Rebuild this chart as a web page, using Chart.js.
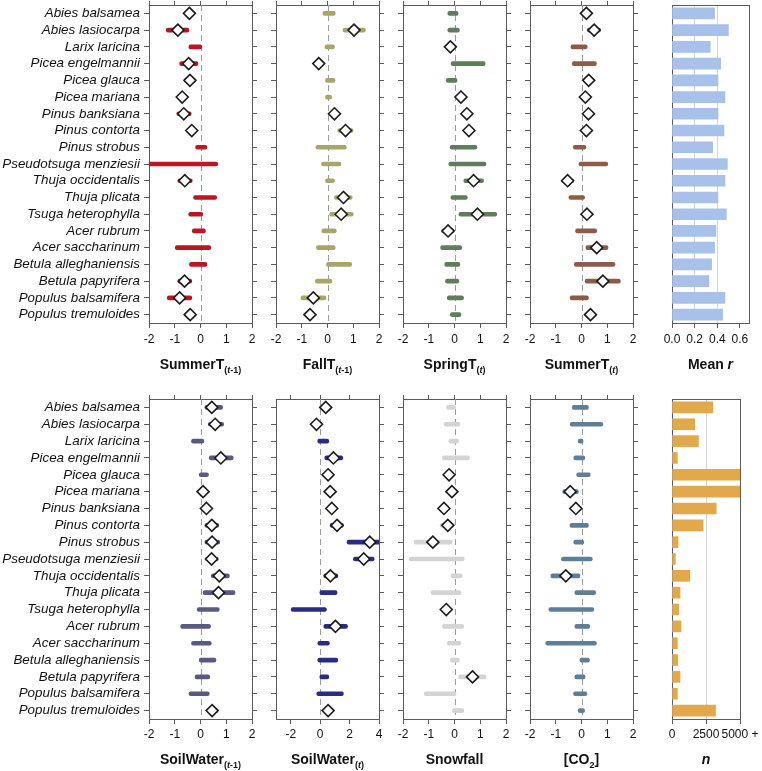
<!DOCTYPE html>
<html>
<head>
<meta charset="utf-8">
<script src="https://cdn.jsdelivr.net/npm/chart.js@4/dist/chart.umd.min.js"></script>
<style>
  html, body { margin: 0; padding: 0; background: #fff; }
  #wrap { position: relative; width: 762px; height: 771px; overflow: hidden; }
  #wrap canvas { position: absolute; }
</style>
</head>
<body>
<div id="wrap"></div>
<script>
const species = ['Abies balsamea', 'Abies lasiocarpa', 'Larix laricina', 'Picea engelmannii', 'Picea glauca',
  'Picea mariana', 'Pinus banksiana', 'Pinus contorta', 'Pinus strobus', 'Pseudotsuga menziesii',
  'Thuja occidentalis', 'Thuja plicata', 'Tsuga heterophylla', 'Acer rubrum', 'Acer saccharinum',
  'Betula alleghaniensis', 'Betula papyrifera', 'Populus balsamifera', 'Populus tremuloides'];

// interval ends and means (null = mean not drawn)
const summerPrevLo = [-0.55, -1.33, -0.45, -0.81, -0.62, -0.8, -0.92, -0.45, -0.19, -2.3, -0.88, -0.27, -0.46, -0.32, -0.98, -0.43, -0.88, -1.29, -0.5];
const summerPrevHi = [-0.3, -0.45, 0.05, -0.1, -0.19, -0.6, -0.36, -0.22, 0.25, 0.67, -0.32, 0.63, 0.09, 0.19, 0.4, 0.25, -0.34, -0.34, -0.3];
const summerPrevMean = [-0.43, -0.88, null, -0.46, -0.41, -0.71, -0.65, -0.34, null, null, -0.61, null, null, null, null, null, -0.62, -0.81, -0.4];

const fallLo = [-0.18, 0.6, -0.1, -0.42, -0.08, -0.08, 0.18, 0.4, -0.45, -0.23, -0.08, 0.27, 0.08, -0.22, -0.43, -0.04, -0.47, -1.03, -0.75];
const fallHi = [0.3, 1.47, 0.27, -0.26, 0.29, 0.16, 0.37, 0.99, 0.73, 0.52, 0.27, 0.96, 1.0, 0.34, 0.3, 0.94, 0.17, -0.06, -0.6];
const fallMean = [null, 1.03, null, -0.34, null, null, 0.27, 0.7, null, null, null, 0.62, 0.53, null, null, null, null, -0.55, -0.68];

const springLo = [-0.26, -0.26, -0.22, -0.13, -0.32, 0.18, 0.35, 0.41, -0.17, -0.22, 0.36, -0.14, 0.17, -0.5, -0.54, -0.38, -0.35, -0.28, -0.16];
const springHi = [0.14, 0.19, -0.1, 1.19, 0.1, 0.32, 0.67, 0.76, 0.87, 1.22, 1.13, 0.5, 1.64, -0.02, 0.28, 0.21, 0.17, 0.35, 0.25];
const springMean = [null, null, -0.16, null, null, 0.25, 0.48, 0.56, null, null, 0.74, null, 0.89, -0.25, null, null, null, null, null];

const summerLo = [0.12, 0.22, -0.41, -0.36, 0.2, 0.08, 0.2, 0.12, -0.32, -0.1, -0.77, -0.49, 0.02, -0.23, 0.17, -0.28, 0.14, -0.44, 0.27];
const summerHi = [0.28, 0.74, 0.22, 0.58, 0.36, 0.22, 0.34, 0.26, 0.17, 1.02, -0.3, 0.12, 0.43, 0.59, 1.03, 1.3, 1.51, 0.27, 0.43];
const summerMean = [0.19, 0.49, null, null, 0.28, 0.15, 0.27, 0.19, null, null, -0.54, null, 0.21, null, 0.59, null, 0.83, null, 0.35];

const meanR = [0.376, 0.498, 0.338, 0.43, 0.406, 0.468, 0.406, 0.459, 0.359, 0.489, 0.468, 0.406, 0.48, 0.388, 0.376, 0.35, 0.326, 0.468, 0.447];

const soilPrevLo = [0.17, 0.3, -0.35, 0.34, -0.05, 0.03, 0.13, 0.17, 0.17, 0.19, 0.42, 0.1, -0.13, -0.77, -0.35, -0.05, -0.21, -0.45, 0.3];
const soilPrevHi = [0.86, 0.9, 0.13, 1.27, 0.31, 0.17, 0.35, 0.71, 0.75, 0.69, 1.12, 1.34, 0.73, 0.39, 0.42, 0.6, 0.36, 0.34, 0.68];
const soilPrevMean = [0.44, 0.57, null, 0.79, null, 0.1, 0.23, 0.44, 0.45, 0.43, 0.73, 0.7, null, null, null, null, null, null, 0.45];

const soilLo = [0.25, -0.35, -0.16, 0.32, 0.45, 0.6, 0.7, 0.68, 1.83, 2.26, 0.25, -0.02, -1.97, 0.25, -0.16, -0.16, -0.02, -0.23, 0.45];
const soilHi = [0.5, -0.15, 0.59, 1.54, 0.62, 0.76, 0.88, 1.58, 4.2, 3.67, 1.2, 1.15, 0.43, 1.86, 0.63, 1.2, 0.59, 1.58, 0.62];
const soilMean = [0.38, -0.25, null, 0.9, 0.54, 0.68, 0.79, 1.15, 3.37, 2.96, 0.7, null, null, 1.04, null, null, null, null, 0.54];

const snowLo = [-0.31, -0.4, -0.22, -0.47, -0.3, -0.18, -0.5, -0.56, -1.57, -1.76, -0.14, -0.91, -0.5, -0.47, -0.28, -0.16, 0.16, -1.18, -0.08];
const snowHi = [0.04, 0.21, 0.16, 0.58, -0.12, -0.03, -0.32, -0.02, -0.09, 0.38, 0.3, 0.25, -0.1, 0.36, 0.25, 0.19, 1.22, 0.06, 0.36];
const snowMean = [null, null, null, null, -0.21, -0.1, -0.41, -0.26, -0.84, null, null, null, -0.32, null, null, null, 0.7, null, null];

const co2Lo = [-0.36, -0.44, -0.13, -0.3, -0.19, -0.73, -0.44, -0.45, -0.3, -0.78, -1.19, -0.26, -1.27, -0.26, -1.39, -0.06, -0.26, -0.31, -0.13];
const co2Hi = [0.27, 0.83, 0.06, 0.13, 0.34, -0.12, -0.01, 0.27, 0.09, 0.42, -0.06, 0.55, 0.48, 0.32, 0.58, 0.31, 0.14, 0.21, 0.12];
const co2Mean = [null, null, null, null, null, -0.44, -0.22, null, null, null, -0.61, null, null, null, null, null, null, null, null];

const sampleN = [3005, 1675, 1945, 394, 5000, 5000, 3250, 2290, 443, 246, 1305, 591, 493, 665, 394, 420, 591, 394, 3200];

const coefTicks = [-2, -1, 0, 1, 2];
const soilTicks = [-2, 0, 2, 4];
const meanRTicks = [0, 0.2, 0.4, 0.6];
const nTicks = [0, 2500, 5000];

const FONT = "'Liberation Sans', Arial, Helvetica, sans-serif";
const FRAME = '#5b5b5b';
const wrap = document.getElementById('wrap');

const rowTop = { t: 5, b: 323, tickPad: 4, titleOff: 45.5 };
const rowBottom = { t: 399, b: 719, tickPad: 3, titleOff: 44.5 };

// dashed line at zero, drawn under the bars
const zeroLine = {
    id: 'zeroLine',
    beforeDatasetsDraw(chart) {
        const x = Math.round(chart.scales.x.getPixelForValue(0)) + 0.5;
        const { top, bottom } = chart.chartArea;
        const ctx = chart.ctx;
        ctx.save();
        ctx.strokeStyle = '#9c9c9c';
        ctx.lineWidth = 1;
        ctx.setLineDash([6, 4]);
        ctx.beginPath();
        ctx.moveTo(x, top);
        ctx.lineTo(x, bottom);
        ctx.stroke();
        ctx.restore();
    }
};

// panel title with subscript / italic pieces
function titlePlugin(parts, offset) {
    return {
        id: 'panelTitle',
        afterDraw(chart) {
            const ctx = chart.ctx;
            const fontOf = p => (p.italic ? 'italic ' : '') + 'bold ' + (p.sub ? 9 : 14) + 'px ' + FONT;
            ctx.save();
            const widths = parts.map(p => { ctx.font = fontOf(p); return ctx.measureText(p.text).width; });
            const total = widths.reduce((a, b) => a + b, 0);
            const area = chart.chartArea;
            let x = (area.left + area.right) / 2 - total / 2;
            const y = area.bottom + offset;
            ctx.fillStyle = '#111';
            ctx.textAlign = 'left';
            ctx.textBaseline = 'alphabetic';
            parts.forEach((p, i) => {
                ctx.font = fontOf(p);
                ctx.fillText(p.text, x, y + (p.sub ? 4 : 0));
                x += widths[i];
            });
            ctx.restore();
        }
    };
}

const lagTitle = (main, sub) => [
    { text: main },
    { text: '(', sub: true },
    { text: 't', sub: true, italic: true },
    { text: sub + ')', sub: true }
];

function makePanel(p) {
    const T = 14, B = 52;
    const w = p.r - p.l + p.L + p.R;
    const h = p.row.b - p.row.t + T + B;
    const cv = document.createElement('canvas');
    cv.width = w; cv.height = h;
    cv.style.width = w + 'px'; cv.style.height = h + 'px';
    cv.style.left = (p.l - p.L) + 'px';
    cv.style.top = (p.row.t - T) + 'px';
    wrap.appendChild(cv);

    const isInt = p.kind === 'int';
    const setTicks = s => { s.ticks = p.ticks.map(v => ({ value: v })); };

    const datasets = isInt ? [
        {
            type: 'bar', indexAxis: 'y', xAxisID: 'x', yAxisID: 'y', order: 2,
            data: p.lo.map((v, i) => [v, p.hi[i]]),
            backgroundColor: p.color,
            barThickness: 4,
            borderRadius: 2,
            borderSkipped: false
        },
        {
            type: 'line', indexAxis: 'y', xAxisID: 'x', yAxisID: 'y', order: 1,
            data: p.mean,
            showLine: false,
            pointStyle: 'rectRot',
            pointRadius: 6,
            pointBackgroundColor: '#ffffff',
            pointBorderColor: '#1c1c1c',
            pointBorderWidth: 1.6
        }
    ] : [
        {
            type: 'bar', indexAxis: 'y', xAxisID: 'x', yAxisID: 'y',
            data: p.vals,
            backgroundColor: p.color,
            barThickness: 11
        }
    ];

    const sideGrid = isInt
        ? { display: true, offset: false, drawOnChartArea: false, drawTicks: true, tickLength: 5, tickColor: FRAME }
        : { display: false };
    const border = { display: true, color: FRAME, width: 1 };

    const plugins = [titlePlugin(p.title, p.row.titleOff)];
    if (isInt) plugins.push(zeroLine);

    new Chart(cv, {
        type: 'bar',
        data: { labels: species, datasets: datasets },
        options: {
            indexAxis: 'y',
            responsive: false,
            devicePixelRatio: 1,
            animation: false,
            events: [],
            layout: { padding: 0 },
            plugins: { legend: { display: false }, tooltip: { enabled: false } },
            scales: {
                x: {
                    type: 'linear', position: 'bottom',
                    min: p.xMin, max: p.xMax,
                    afterBuildTicks: setTicks,
                    afterFit: s => { s.height = B; },
                    ticks: {
                        autoSkip: false, maxRotation: 0, padding: p.row.tickPad,
                        color: '#111', font: { family: FONT, size: 12 },
                        callback: p.fmt
                    },
                    grid: {
                        drawOnChartArea: !isInt,
                        color: c => (!isInt && c.tick && c.tick.value > 0 && c.tick.value < p.gridMax) ? '#d6d6d6' : 'rgba(0,0,0,0)',
                        tickLength: 5, tickColor: FRAME
                    },
                    border: border
                },
                x2: {
                    type: 'linear', position: 'top',
                    min: p.xMin, max: p.xMax,
                    afterBuildTicks: setTicks,
                    afterFit: s => { s.height = T; },
                    ticks: { display: false },
                    grid: isInt
                        ? { display: true, drawOnChartArea: false, drawTicks: true, tickLength: 4, tickColor: FRAME }
                        : { display: false },
                    border: border
                },
                y: {
                    type: 'category', position: 'left', offset: true,
                    afterFit: s => { s.width = p.L; },
                    ticks: {
                        display: !!p.labels, autoSkip: false, padding: 4,
                        color: '#111', font: { family: FONT, size: 13.4, style: 'italic' }
                    },
                    grid: sideGrid,
                    border: border
                },
                y2: {
                    type: 'category', position: 'right', offset: true,
                    afterFit: s => { s.width = p.R; },
                    ticks: { display: false },
                    grid: sideGrid,
                    border: border
                }
            }
        },
        plugins: plugins
    });
}

const coefFmt = v => String(v);

const panels = [
    { row: rowTop, l: 149, r: 252, L: 149, R: 10, kind: 'int', labels: true, lo: summerPrevLo, hi: summerPrevHi, mean: summerPrevMean,
      color: '#bd1622', xMin: -2, xMax: 2, ticks: coefTicks, fmt: coefFmt, title: lagTitle('SummerT', '-1') },
    { row: rowTop, l: 276, r: 379, L: 10, R: 10, kind: 'int', lo: fallLo, hi: fallHi, mean: fallMean,
      color: '#a9a56a', xMin: -2, xMax: 2, ticks: coefTicks, fmt: coefFmt, title: lagTitle('FallT', '-1') },
    { row: rowTop, l: 403, r: 506, L: 10, R: 10, kind: 'int', lo: springLo, hi: springHi, mean: springMean,
      color: '#5f7d5c', xMin: -2, xMax: 2, ticks: coefTicks, fmt: coefFmt, title: lagTitle('SpringT', '') },
    { row: rowTop, l: 530, r: 633, L: 10, R: 10, kind: 'int', lo: summerLo, hi: summerHi, mean: summerMean,
      color: '#8c5b4a', xMin: -2, xMax: 2, ticks: coefTicks, fmt: coefFmt, title: lagTitle('SummerT', '') },
    { row: rowTop, l: 672, r: 749, L: 20, R: 13, kind: 'bar', vals: meanR, gridMax: 0.5,
      color: '#a7c1ea', xMin: 0, xMax: 0.68, ticks: meanRTicks, fmt: v => v.toFixed(1),
      title: [{ text: 'Mean ' }, { text: 'r', italic: true }] },

    { row: rowBottom, l: 149, r: 252, L: 149, R: 10, kind: 'int', labels: true, lo: soilPrevLo, hi: soilPrevHi, mean: soilPrevMean,
      color: '#5a5a80', xMin: -2, xMax: 2, ticks: coefTicks, fmt: coefFmt, title: lagTitle('SoilWater', '-1') },
    { row: rowBottom, l: 276, r: 379, L: 10, R: 10, kind: 'int', lo: soilLo, hi: soilHi, mean: soilMean,
      color: '#2a2a88', xMin: -3, xMax: 4, ticks: soilTicks, fmt: coefFmt, title: lagTitle('SoilWater', '') },
    { row: rowBottom, l: 403, r: 506, L: 10, R: 10, kind: 'int', lo: snowLo, hi: snowHi, mean: snowMean,
      color: '#d4d4d4', xMin: -2, xMax: 2, ticks: coefTicks, fmt: coefFmt, title: [{ text: 'Snowfall' }] },
    { row: rowBottom, l: 530, r: 633, L: 10, R: 10, kind: 'int', lo: co2Lo, hi: co2Hi, mean: co2Mean,
      color: '#5f7f98', xMin: -2, xMax: 2, ticks: coefTicks, fmt: coefFmt,
      title: [{ text: '[CO' }, { text: '2', sub: true }, { text: ']' }] },
    { row: rowBottom, l: 672, r: 740, L: 20, R: 22, kind: 'bar', vals: sampleN, gridMax: 4000,
      color: '#e1a94c', xMin: 0, xMax: 5000, ticks: nTicks, fmt: v => (v === 5000 ? '5000 +' : String(v)),
      title: [{ text: 'n', italic: true }] }
];

panels.forEach(makePanel);
</script>
</body>
</html>
